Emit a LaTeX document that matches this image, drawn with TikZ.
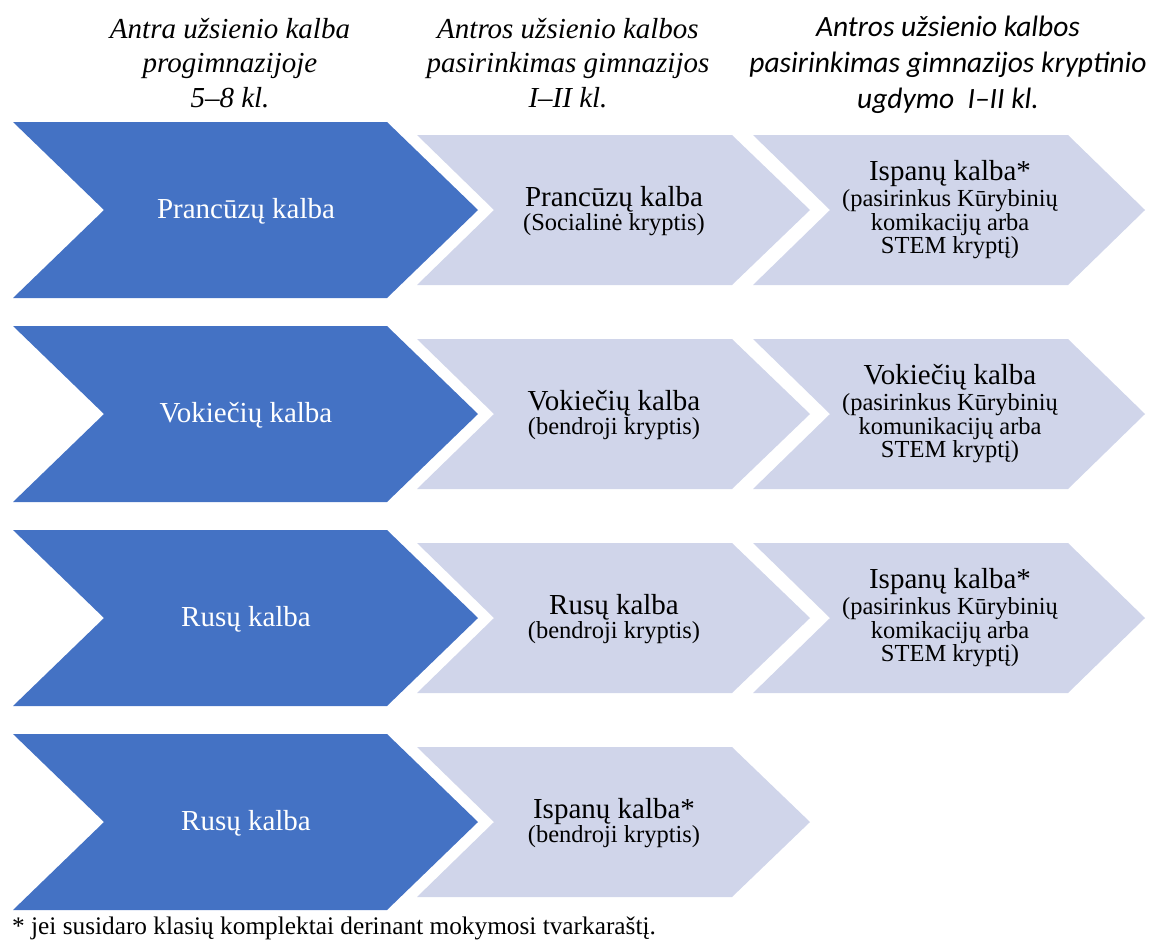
\documentclass[tikz,border=0pt]{standalone}
\usepackage{fontspec}
\setmainfont{Liberation Serif}
\newfontfamily\headsans{Carlito}
\usepackage{xcolor}
\definecolor{chevblue}{HTML}{4472C4}
\definecolor{chevpale}{HTML}{D0D5EA}

\begin{document}
\begin{tikzpicture}[x=1pt, y=-1pt]
			\tikzstyle{bigarrow}=[fill=chevblue]
			\tikzstyle{palearrow}=[fill=chevpale]
			\tikzstyle{header}=[
			inner sep=0pt,
			anchor=north,
			align=center,
			font=\fontsize{29}{34.5}\selectfont\itshape
			]
			\tikzstyle{bluetext}=[
			inner sep=0pt,
			text=white,
			font=\fontsize{29}{33}\selectfont
			]
			\tikzstyle{paletext}=[
			inner sep=0pt,
			align=center,
			font=\fontsize{24.5}{23.5}\selectfont
			]
			\useasboundingbox (0,0) rectangle (1150,945);
			% chevrons
			\foreach \cy in {210,414,618,822}
			\fill[bigarrow] (13,\cy-88) -- (387,\cy-88) -- (478,\cy) -- (387,\cy+88) -- (13,\cy+88) -- (104,\cy) -- cycle;
			\foreach \cy in {210,414,618,822}
			\fill[palearrow] (417,\cy-75) -- (732,\cy-75) -- (810,\cy) -- (732,\cy+75) -- (417,\cy+75) -- (494,\cy) -- cycle;
			\foreach \cy in {210,414,618}
			\fill[palearrow] (753,\cy-75) -- (1068,\cy-75) -- (1145,\cy) -- (1068,\cy+75) -- (753,\cy+75) -- (830,\cy) -- cycle;
			% headers
			\node[header] (HEADA) at (230,18) {Antra užsienio kalba\\ progimnazijoje\\ 5–8 kl.};
			\node[header] (HEADB) at (568,18) {Antros užsienio kalbos\\ pasirinkimas gimnazijos\\ I–II kl.};
			\node[header, font=\fontsize{29.5}{36}\selectfont\headsans\itshape] (HEADC) at (948,16) {Antros užsienio kalbos\\ pasirinkimas gimnazijos kryptinio\\ ugdymo~ I–II kl.};
			% first column
			\node[bluetext] (FR) at (246,211) {Prancūzų kalba};
			\node[bluetext] (VO) at (246,415) {Vokiečių kalba};
			\node[bluetext] (RUA) at (246,619) {Rusų kalba};
			\node[bluetext] (RUB) at (246,823) {Rusų kalba};
			% second column
			\node[paletext] (FRG) at (614,211) {{\fontsize{29}{24}\selectfont Prancūzų kalba}\\[1pt] (Socialinė kryptis)};
			\node[paletext] (VOG) at (614,415) {{\fontsize{29}{24}\selectfont Vokiečių kalba}\\[1pt] (bendroji kryptis)};
			\node[paletext] (RUG) at (614,619) {{\fontsize{29}{24}\selectfont Rusų kalba}\\[1pt] (bendroji kryptis)};
			\node[paletext] (ISG) at (614,823) {{\fontsize{29}{24}\selectfont Ispanų kalba*}\\[1pt] (bendroji kryptis)};
			% third column
			\node[paletext] (ISK) at (950,210) {{\fontsize{29}{24}\selectfont Ispanų kalba*}\\[2.5pt] (pasirinkus Kūrybinių\\ komikacijų arba\\ STEM kryptį)};
			\node[paletext] (VOK) at (950,414) {{\fontsize{29}{24}\selectfont Vokiečių kalba}\\[2.5pt] (pasirinkus Kūrybinių\\ komunikacijų arba\\ STEM kryptį)};
			\node[paletext] (ISKB) at (950,618) {{\fontsize{29}{24}\selectfont Ispanų kalba*}\\[2.5pt] (pasirinkus Kūrybinių\\ komikacijų arba\\ STEM kryptį)};
			%
			\node[inner sep=0pt, anchor=base west, font=\fontsize{25.3}{30}\selectfont] (NOTE) at (12,934) {* jei susidaro klasių komplektai derinant mokymosi tvarkaraštį.};
		\end{tikzpicture}
\end{document}
